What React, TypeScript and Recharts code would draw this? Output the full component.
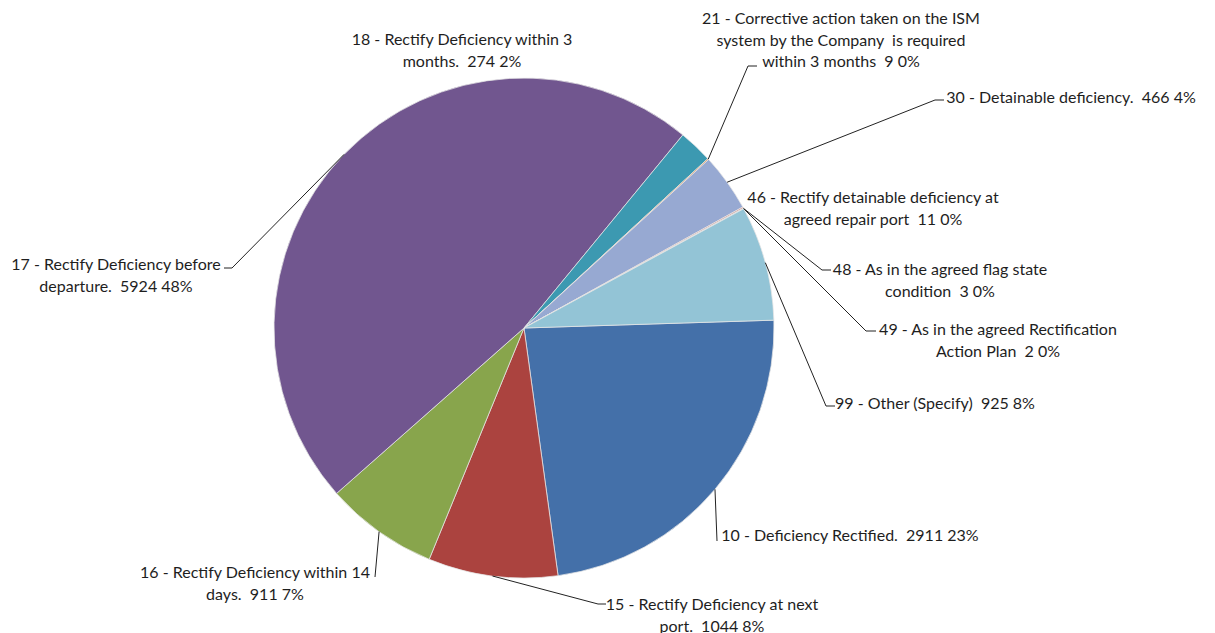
import { PieChart, Pie, Cell } from "recharts";

const codes = ["10", "15", "16", "17", "18", "21", "30", "46", "48", "49", "99"];
const names = [
  "Deficiency Rectified.",
  "Rectify Deficiency at next port.",
  "Rectify Deficiency within 14 days.",
  "Rectify Deficiency before departure.",
  "Rectify Deficiency within 3 months.",
  "Corrective action taken on the ISM system by the Company  is required within 3 months",
  "Detainable deficiency.",
  "Rectify detainable deficiency at agreed repair port",
  "As in the agreed flag state condition",
  "As in the agreed Rectification Action Plan",
  "Other (Specify)",
];
const counts = [2911, 1044, 911, 5924, 274, 9, 466, 11, 3, 2, 925];
const percentLabels = ["23%", "8%", "7%", "48%", "2%", "0%", "4%", "0%", "0%", "0%", "8%"];
const colors = [
  "#4470A9", "#AB433F", "#88A54C", "#71568F", "#3C99B1", "#DB843D",
  "#97A9D2", "#D19392", "#B9CD96", "#A99BBD", "#93C4D6",
];

// label text wrapping as drawn in the reference
const labelLines = [
  ["10 - Deficiency Rectified.  2911 23%"],
  ["15 - Rectify Deficiency at next", "port.  1044 8%"],
  ["16 - Rectify Deficiency within 14", "days.  911 7%"],
  ["17 - Rectify Deficiency before", "departure.  5924 48%"],
  ["18 - Rectify Deficiency within 3", "months.  274 2%"],
  ["21 - Corrective action taken on the ISM", "system by the Company  is required", "within 3 months  9 0%"],
  ["30 - Detainable deficiency.  466 4%"],
  ["46 - Rectify detainable deficiency at", "agreed repair port  11 0%"],
  ["48 - As in the agreed flag state", "condition  3 0%"],
  ["49 - As in the agreed Rectification", "Action Plan  2 0%"],
  ["99 - Other (Specify)  925 8%"],
];

// layout: text centre x, first line middle y, leader end point and tick end (null = no leader)
type Layout = { tx: number; ty: number; end: [number, number] | null; tick: number };
const labelLayout: Layout[] = [
  { tx: 850, ty: 534, end: [717, 541], tick: 0 },
  { tx: 712, ty: 603, end: [598, 604], tick: 8 },
  { tx: 255, ty: 571, end: [375, 577], tick: 0 },
  { tx: 116, ty: 263, end: [232, 268], tick: -8 },
  { tx: 462, ty: 38, end: null, tick: 0 },
  { tx: 841, ty: 17, end: [748, 66], tick: 9 },
  { tx: 1071, ty: 96, end: [935, 100], tick: 9 },
  { tx: 873, ty: 196, end: null, tick: 0 },
  { tx: 940, ty: 268, end: [822, 270], tick: 9 },
  { tx: 998, ty: 328, end: [866, 331], tick: 10 },
  { tx: 935, ty: 402, end: [826, 406], tick: 9 },
];

const data = codes.map((c, i) => ({
  name: `${c} - ${names[i]}`,
  value: counts[i],
  pct: percentLabels[i],
}));

const RAD = Math.PI / 180;
const LINE_H = 21.5;

function renderLabel(props: any) {
  const { cx, cy, midAngle, outerRadius, index } = props;
  const lay = labelLayout[index];
  const lines = labelLines[index];
  const sx = cx + outerRadius * Math.cos(-midAngle * RAD);
  const sy = cy + outerRadius * Math.sin(-midAngle * RAD);
  return (
    <g key={`lbl-${index}`}>
      {lay.end && (
        <polyline
          points={`${sx},${sy} ${lay.end[0]},${lay.end[1]} ${lay.end[0] + lay.tick},${lay.end[1]}`}
          fill="none"
          stroke="#222"
          strokeWidth={1}
        />
      )}
      <text
        x={lay.tx}
        y={lay.ty}
        textAnchor="middle"
        dominantBaseline="central"
        fill="#1e1e1e"
        fontSize={16}
        fontFamily="Lato, 'Open Sans', sans-serif"
      >
        {lines.map((l, j) => (
          <tspan key={j} x={lay.tx} y={lay.ty + j * LINE_H} style={{ whiteSpace: "pre" }}>
            {l}
          </tspan>
        ))}
      </text>
    </g>
  );
}

export default function App() {
  return (
    <div style={{ width: 1215, height: 633, background: "#fff" }}>
      <style>{`body{margin:0;background:#fff}`}</style>
      <PieChart width={1215} height={633} margin={{ top: 0, right: 0, bottom: 0, left: 0 }}>
        <Pie
          data={data}
          dataKey="value"
          nameKey="name"
          cx={524}
          cy={328}
          outerRadius={250}
          startAngle={1.8}
          endAngle={-358.2}
          stroke="#e6e6e6"
          strokeWidth={0.75}
          label={renderLabel}
          labelLine={false}
          isAnimationActive={false}
        >
          {data.map((d, i) => (
            <Cell key={d.name} fill={colors[i]} />
          ))}
        </Pie>
      </PieChart>
    </div>
  );
}
